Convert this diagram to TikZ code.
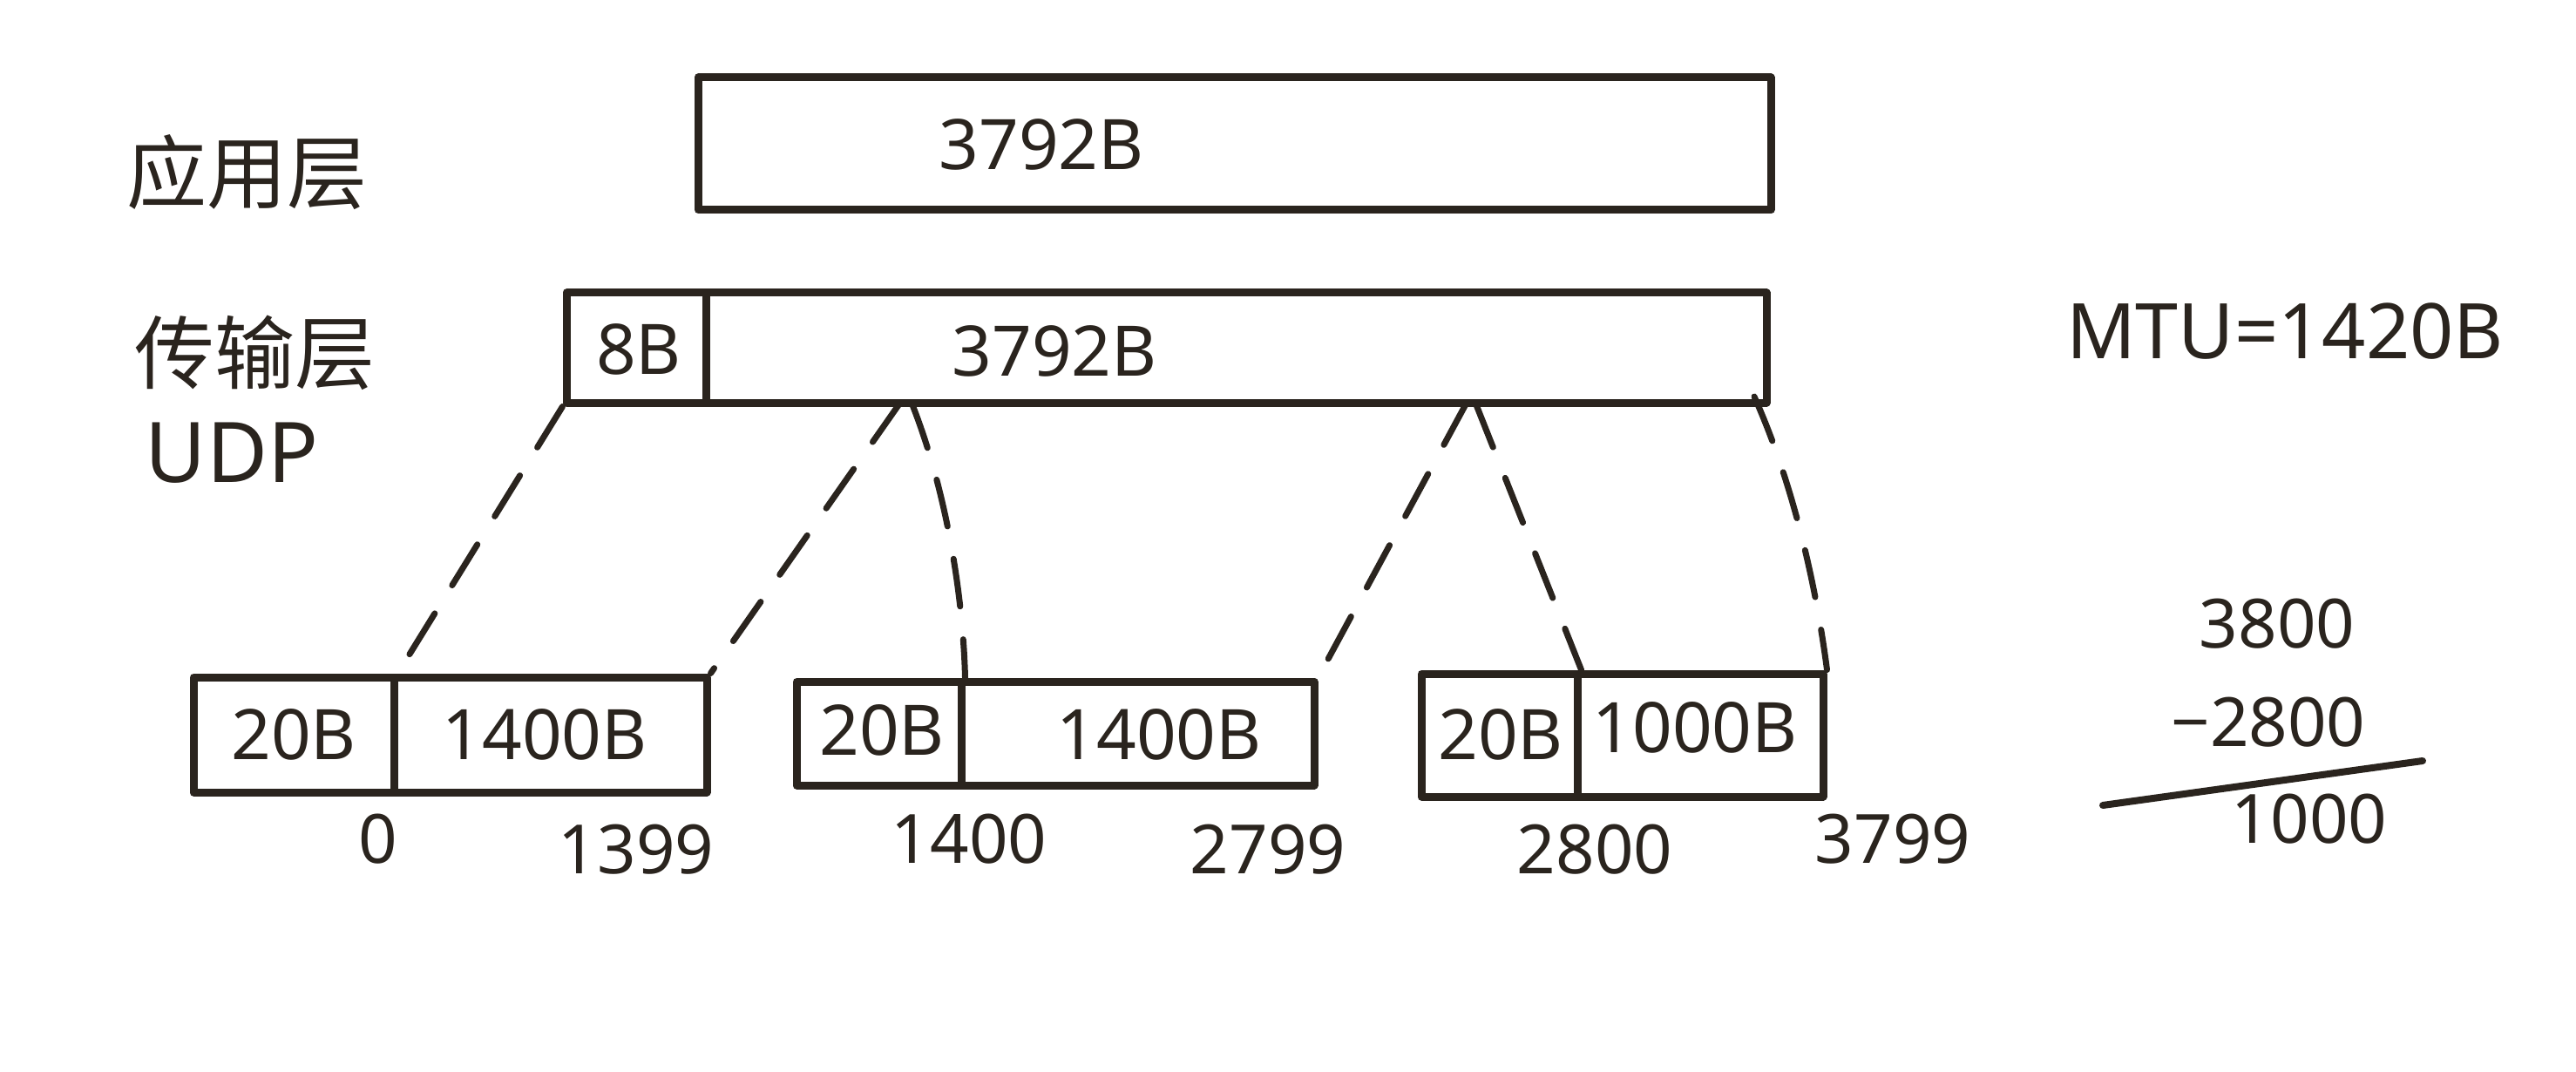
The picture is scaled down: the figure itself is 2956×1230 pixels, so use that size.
\documentclass[tikz,border=0pt]{standalone}
\usepackage{fontspec}
\setmainfont{Noto Sans}
\newfontfamily\cjk{Noto Sans CJK SC}
\definecolor{ink}{RGB}{42,36,30}
\tikzset{
  box/.style={draw=ink, line width=9pt, rectangle, inner sep=0pt, line join=round},
  txt/.style={text=ink, inner sep=0pt, font=\fontsize{80}{90}\selectfont},
  lbl/.style={text=ink, inner sep=0pt, font=\cjk\fontsize{92}{100}\selectfont},
  num/.style={text=ink, inner sep=0pt, font=\fontsize{78}{90}\selectfont},
  split/.style={draw=ink, line width=7pt, dash pattern=on 55pt off 38pt, line cap=round}
}
\begin{document}
\begin{tikzpicture}[x=1pt,y=-1pt]
\useasboundingbox[fill=white] (0,0) rectangle (2956,1230);

% layer labels
\node[lbl] (app) at (283,198) {应用层};
\node[lbl] (trans) at (292,405) {传输层};
\node[txt, font=\fontsize{96}{100}\selectfont] (udp) at (266,520) {UDP};

% application layer box
\node[box, minimum width=1231pt, minimum height=152pt] (abox) at (1416.5,165) {};
\node[txt] (atxt) at (1195,166) {3792B};

% transport layer boxes
\node[box, minimum width=160pt, minimum height=126pt] (t8) at (730,399) {};
\node[txt] (t8txt) at (733,401) {8B};
\node[box, minimum width=1217pt, minimum height=126pt] (tdata) at (1418.5,399) {};
\node[txt] (ttxt) at (1210,403) {3792B};

% MTU
\node[txt, font=\fontsize{88}{96}\selectfont] (mtu) at (2622,380) {MTU=1420B};

% fragment 1
\node[box, minimum width=230pt, minimum height=132pt] (f1h) at (337,843) {};
\node[txt] (f1ht) at (337,843) {20B};
\node[box, minimum width=359pt, minimum height=132pt] (f1d) at (631.5,843) {};
\node[txt] (f1dt) at (625,843) {1400B};
% fragment 2
\node[box, minimum width=189pt, minimum height=119pt] (f2h) at (1008.5,841.5) {};
\node[txt] (f2ht) at (1012,838) {20B};
\node[box, minimum width=405pt, minimum height=119pt] (f2d) at (1305.5,841.5) {};
\node[txt] (f2dt) at (1330,843) {1400B};
% fragment 3
\node[box, minimum width=179pt, minimum height=141pt] (f3h) at (1720.5,843.5) {};
\node[txt] (f3ht) at (1722,843) {20B};
\node[box, minimum width=282pt, minimum height=141pt] (f3d) at (1951,843.5) {};
\node[txt] (f3dt) at (1945,835) {1000B};

% offsets
\node[num] (o0) at (434,963) {0};
\node[num] (o1399) at (730,975) {1399};
\node[num] (o1400) at (1112,963) {1400};
\node[num] (o2799) at (1455,975) {2799};
\node[num] (o2800) at (1830,975) {2800};
\node[num] (o3799) at (2172,963) {3799};

% split points on the transport data
\coordinate (s1) at (1033,462);
\coordinate (s2) at (1046,462);
\coordinate (s3) at (1683,462);
\coordinate (s4) at (1693,462);
\coordinate (s5) at (2013,455);

% dashed connectors
\draw[split] (t8.south west) -- (f1h.north east);
\draw[split] (s1) -- (f1d.north east);
\draw[split] (s2) .. controls (1085,560) and (1105,680) .. (f2h.north east);
\draw[split] (s3) -- (f2d.north east);
\draw[split] (s4) -- (f3h.north east);
\draw[split] (s5) .. controls (2060,560) and (2085,680) .. (f3d.north east);

% subtraction
\node[num] (c1) at (2613,716) {3800};
\node[num] (c2) at (2603,829) {−2800};
\coordinate (ruleL) at (2413,924);
\coordinate (ruleR) at (2780,873);
\draw[ink, line width=8pt, line cap=round] (ruleL) -- (ruleR);
\node[num] (c3) at (2650,940) {1000};
\end{tikzpicture}
\end{document}
